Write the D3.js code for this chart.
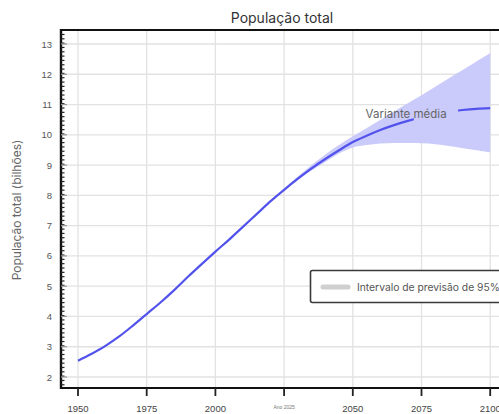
<!DOCTYPE html>
<html>
<head>
<meta charset="utf-8">
<script src="https://cdn.jsdelivr.net/npm/d3@7"></script>
<style>
  html, body { margin: 0; padding: 0; background: #fff; }
  svg { display: block; }
</style>
</head>
<body>
<svg id="chart" width="499" height="414"></svg>
<script>
// World population, medium variant and 95% prediction interval (billions)
const years = [1950,1955,1960,1965,1970,1975,1980,1985,1990,1995,2000,2005,2010,2015,2020,
               2025,2030,2035,2040,2045,2050,2055,2060,2065,2070,2075,2080,2085,2090,2095,2100];
const median = [2.54,2.77,3.03,3.34,3.70,4.08,4.46,4.87,5.31,5.73,6.14,6.54,6.96,7.38,7.80,
                8.18,8.55,8.89,9.20,9.49,9.76,9.97,10.16,10.32,10.46,10.58,10.68,10.76,10.82,10.86,10.88];
const bandYears = [2020,2025,2030,2035,2040,2045,2050,2055,2060,2065,2070,2075,2080,2085,2090,2095,2100];
const lower95 = [7.80,8.16,8.50,8.82,9.10,9.38,9.58,9.66,9.71,9.73,9.73,9.72,9.69,9.63,9.56,9.49,9.42];
const upper95 = [7.80,8.22,8.62,9.00,9.35,9.66,9.95,10.22,10.49,10.77,11.04,11.31,11.59,11.87,12.14,12.42,12.70];
const yTicks = [2,3,4,5,6,7,8,9,10,11,12,13];
const xTicks = [1950,1975,2000,2025,2050,2075,2100];
const xTickLabels = ["1950","1975","2000","Ano 2025","2050","2075","2100"];

const svg = d3.select("#chart");
const plot = { left: 61, top: 30, right: 540, bottom: 388 };

const x = d3.scaleLinear().domain([1950, 2100]).range([78, 490.2]);
const y = d3.scaleLinear().domain([2, 13]).range([377, 44]);

// clip for everything inside the frame
svg.append("defs").append("clipPath").attr("id", "plotClip")
  .append("rect").attr("x", plot.left).attr("y", plot.top)
  .attr("width", plot.right - plot.left).attr("height", plot.bottom - plot.top);

const g = svg.append("g").attr("clip-path", "url(#plotClip)");

// grid
g.selectAll("line.hgrid").data(yTicks).join("line")
  .attr("class", "hgrid")
  .attr("x1", plot.left).attr("x2", plot.right)
  .attr("y1", d => y(d)).attr("y2", d => y(d))
  .attr("stroke", "#e2e2e2").attr("stroke-width", 1.3);
g.selectAll("line.vgrid").data(xTicks).join("line")
  .attr("class", "vgrid")
  .attr("x1", d => x(d)).attr("x2", d => x(d))
  .attr("y1", plot.top).attr("y2", plot.bottom)
  .attr("stroke", "#e2e2e2").attr("stroke-width", 1.3);

// prediction interval band
const bandData = bandYears.map((yr, i) => ({ yr, lo: lower95[i], hi: upper95[i] }));
g.append("path")
  .datum(bandData)
  .attr("d", d3.area().curve(d3.curveCatmullRom)
    .x(d => x(d.yr)).y0(d => y(d.lo)).y1(d => y(d.hi)))
  .attr("fill", "#c7c7fb")
  .attr("opacity", 0.95);

// median line, with a gap where its inline label sits
const gapStart = 2072.2, gapEnd = 2088.3;
const mask = svg.select("defs").append("mask").attr("id", "lineMask");
mask.append("rect").attr("x", 0).attr("y", 0).attr("width", 600).attr("height", 414).attr("fill", "#fff");
mask.append("rect").attr("x", x(gapStart)).attr("y", plot.top)
  .attr("width", x(gapEnd) - x(gapStart)).attr("height", plot.bottom - plot.top).attr("fill", "#000");

const lineData = years.map((yr, i) => ({ yr, v: median[i] }));
g.append("path")
  .datum(lineData)
  .attr("d", d3.line().curve(d3.curveCatmullRom).x(d => x(d.yr)).y(d => y(d.v)))
  .attr("fill", "none")
  .attr("stroke", "#5252ec")
  .attr("stroke-width", 2.2)
  .attr("mask", "url(#lineMask)");

g.append("text")
  .attr("x", x(2069.4)).attr("y", y(10.55))
  .attr("text-anchor", "middle")
  .attr("font-family", "Inter, 'Noto Sans', sans-serif")
  .attr("font-size", 11.5)
  .attr("fill", "#666")
  .text("Variante média");

// legend
const leg = svg.append("g");
leg.append("rect")
  .attr("x", 310.5).attr("y", 270.5).attr("width", 240).attr("height", 32)
  .attr("rx", 2).attr("fill", "#fff").attr("stroke", "#3a3a3a").attr("stroke-width", 1.6);
leg.append("line")
  .attr("x1", 323).attr("x2", 348).attr("y1", 287).attr("y2", 287)
  .attr("stroke", "#cfcfcf").attr("stroke-width", 5).attr("stroke-linecap", "round");
leg.append("text")
  .attr("x", 357).attr("y", 290.5)
  .attr("font-family", "Inter, 'Noto Sans', sans-serif")
  .attr("font-size", 10.3)
  .attr("fill", "#555")
  .text("Intervalo de previsão de 95%");

// frame lines
svg.append("line").attr("x1", plot.left - 1).attr("x2", 499).attr("y1", plot.top).attr("y2", plot.top)
  .attr("stroke", "#111").attr("stroke-width", 2);
svg.append("line").attr("x1", plot.left - 1).attr("x2", 499).attr("y1", plot.bottom).attr("y2", plot.bottom)
  .attr("stroke", "#111").attr("stroke-width", 2);
svg.append("line").attr("x1", plot.left).attr("x2", plot.left).attr("y1", plot.top - 1).attr("y2", plot.bottom + 1)
  .attr("stroke", "#111").attr("stroke-width", 2.4);

// y minor ticks
const yMinor = d3.range(0, 90).map(i => 1.6 + i / 7).filter(v => y(v) > plot.top + 2 && y(v) < plot.bottom - 1);
svg.selectAll("line.yminor").data(yMinor).join("line")
  .attr("class", "yminor")
  .attr("x1", plot.left).attr("x2", plot.left + 3.5)
  .attr("y1", d => y(d)).attr("y2", d => y(d))
  .attr("stroke", "#222").attr("stroke-width", 1.2);

// y axis labels and major ticks
svg.selectAll("line.ymajor").data(yTicks).join("line")
  .attr("class", "ymajor")
  .attr("x1", plot.left).attr("x2", plot.left + 6)
  .attr("y1", d => y(d)).attr("y2", d => y(d))
  .attr("stroke", "#999").attr("stroke-width", 1.2);
svg.selectAll("text.ytick").data(yTicks).join("text")
  .attr("class", "ytick")
  .attr("x", 52).attr("y", d => y(d) + 3.5)
  .attr("text-anchor", "end")
  .attr("font-family", "'Liberation Sans', Arial, sans-serif")
  .attr("font-size", 9.5)
  .attr("fill", "#555")
  .text(d => d);

// x axis ticks and labels
svg.selectAll("line.xtick").data(xTicks).join("line")
  .attr("class", "xtick")
  .attr("x1", d => x(d)).attr("x2", d => x(d))
  .attr("y1", plot.bottom).attr("y2", plot.bottom + 8)
  .attr("stroke", "#222").attr("stroke-width", 1.8);
svg.selectAll("text.xtick").data(xTicks).join("text")
  .attr("class", "xtick")
  .attr("x", d => x(d)).attr("y", (d, i) => i === 3 ? 409 : 412)
  .attr("text-anchor", "middle")
  .attr("font-family", "'Liberation Sans', Arial, sans-serif")
  .attr("font-size", (d, i) => i === 3 ? 5 : 9.5)
  .attr("fill", (d, i) => i === 3 ? "#777" : "#444")
  .text((d, i) => xTickLabels[i]);

// title and axis label
svg.append("text")
  .attr("x", 282).attr("y", 23)
  .attr("text-anchor", "middle")
  .attr("font-family", "Inter, 'Noto Sans', sans-serif")
  .attr("font-size", 14)
  .attr("fill", "#333")
  .text("População total");
svg.append("text")
  .attr("transform", "translate(21,210) rotate(-90)")
  .attr("text-anchor", "middle")
  .attr("font-family", "Inter, 'Noto Sans', sans-serif")
  .attr("font-size", 12)
  .attr("fill", "#666")
  .text("População total (bilhões)");
</script>
</body>
</html>
